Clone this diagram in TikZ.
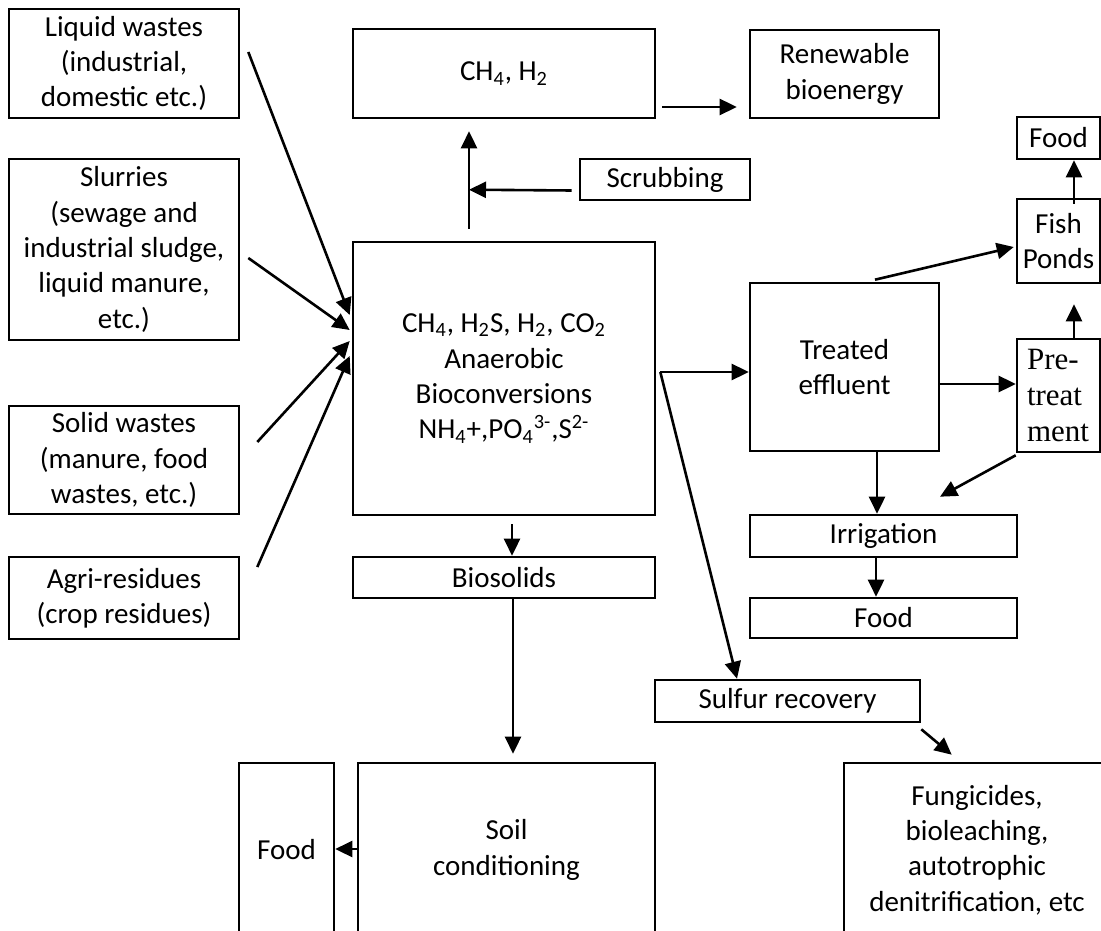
\documentclass[tikz,border=0pt]{standalone}
\usepackage{fontspec}
\setmainfont{Carlito}
\newfontfamily\timesfont{Liberation Serif}
\usetikzlibrary{arrows.meta,calc}
\newdimen\pxu
\pxu=0.5pt
\begin{document}
\begin{tikzpicture}[x=0.5pt,y=-0.5pt,
  box/.style={draw, line width=1.3pt, align=center, inner sep=2pt,
    font=\fontsize{14.5}{17.7}\selectfont},
  arr/.style={line width=1.3pt, -{Triangle[length=8.5pt,width=8pt]}}]
\useasboundingbox (0,0) rectangle (1101,930);
\clip (0,0) rectangle (1101,930);

\node[box, minimum width=230\pxu, minimum height=109\pxu] (liquid) at (124,63.5)
{Liquid wastes\\(industrial,\\domestic etc.)};
\node[box, minimum width=230\pxu, minimum height=181\pxu] (slurry) at (124,249.5)
{Slurries\\(sewage and\\industrial sludge,\\liquid manure,\\etc.)};
\node[box, minimum width=230\pxu, minimum height=108\pxu] (solid) at (124,460)
{Solid wastes\\(manure, food\\wastes, etc.)};
\node[box, minimum width=230\pxu, minimum height=82\pxu] (agri) at (124,598)
{Agri-residues\\(crop residues)};

\node[box, minimum width=302\pxu, minimum height=89\pxu] (gas) at (504,73.5)
{CH\textsubscript{4}, H\textsubscript{2}};
\node[box, minimum width=189\pxu, minimum height=88\pxu] (energy) at (844.5,74)
{Renewable\\bioenergy};
\node[box, minimum width=170\pxu, minimum height=41\pxu] (scrub) at (665,179.5)
{Scrubbing};
\node[box, minimum width=302\pxu, minimum height=273\pxu] (main) at (504,378.5)
{CH\textsubscript{4}, H\textsubscript{2}S, H\textsubscript{2}, CO\textsubscript{2}\\Anaerobic\\Bioconversions\\NH\textsubscript{4}+,PO\textsubscript{4}\textsuperscript{3-},S\textsuperscript{2-}};
\node[box, minimum width=302\pxu, minimum height=41\pxu] (biosolids) at (504,577.5)
{Biosolids};
\node[box, minimum width=297\pxu, minimum height=174\pxu] (soil) at (506.5,850)
{Soil\\conditioning};
\node[box, minimum width=95\pxu, minimum height=174\pxu] (foodL) at (286.5,850)
{Food};

\node[box, minimum width=189\pxu, minimum height=168\pxu] (treated) at (844.5,367)
{Treated\\effluent};
\node[box, minimum width=83\pxu, minimum height=42\pxu] (fishfood) at (1058.5,138)
{Food};
\node[box, minimum width=83\pxu, minimum height=84\pxu] (fish) at (1058.5,241)
{Fish\\Ponds};
\node[box, minimum width=83\pxu, minimum height=113\pxu, align=left, inner xsep=5pt,
  text width=31.5pt, font=\timesfont\fontsize{15.5}{18}\selectfont] (pretreat) at (1058.5,395.5)
{Pre-\\treat\\ment};
\node[box, minimum width=267\pxu, minimum height=42\pxu] (irrigation) at (883.5,536)
{Irrigation};
\node[box, minimum width=267\pxu, minimum height=40\pxu] (foodR) at (883.5,618)
{Food};
\node[box, minimum width=265\pxu, minimum height=42\pxu] (sulfur) at (787.5,701)
{Sulfur recovery};
\node[box, minimum width=266\pxu, minimum height=174\pxu] (fungi) at (977,850)
{Fungicides,\\bioleaching,\\autotrophic\\denitrification, etc};

\coordinate (riser) at ($(main.north)+(-35,-51)$);
\coordinate (split) at ($(main.east)+(4,-6.5)$);

\draw[arr] ($(liquid.east)+(8,-11.5)$) -- ($(main.west)+(-2,-63.5)$);
\draw[arr] ($(slurry.east)+(8,8.5)$) -- ($(main.west)+(-2,-48.5)$);
\draw[arr] ($(solid.east)+(17,-18)$) -- ($(main.west)+(-2,-37.5)$);
\draw[arr] ($(agri.east)+(17,-31)$) -- ($(main.west)+(-2,-22.5)$);

\draw[arr] ($(main.north)+(-35,-12)$) -- ($(gas.south)+(-35,12)$);
\draw[arr] ($(scrub.west)+(-7,11)$) -- (riser);
\draw[arr] ($(gas.east)+(6,33.5)$) -- ($(energy.west)+(-12,33)$);

\draw[arr] (split) -- ($(treated.west)+(0,5)$);
\draw[arr] (split) -- ($(sulfur.north)+(-50.5,0)$);
\draw[arr] ($(main.south)+(8,8)$) -- ($(biosolids.north)+(8,0)$);
\draw[arr] ($(biosolids.south)+(9,0)$) -- ($(soil.north)+(6.5,-8)$);
\draw[arr] ($(soil.west)+(2,-1)$) -- ($(foodL.east)+(0,-1)$);

\draw[arr] ($(treated.north)+(30.5,-2)$) -- ($(fish.west)+(-2,6)$);
\draw[arr] ($(treated.east)+(-2,17)$) -- ($(pretreat.west)+(0,-11.5)$);
\draw[arr] ($(fish.north)+(15.5,6)$) -- ($(fishfood.south)+(15.5,0)$);
\draw[arr] ($(pretreat.north)+(15.5,0)$) -- ($(fish.south)+(15.5,20)$);
\draw[arr] ($(treated.south)+(32.5,0)$) -- ($(irrigation.north)+(-6.5,0)$);
\draw[arr] ($(pretreat.south west)+(0,2)$) -- ($(irrigation.north)+(56.5,-17)$);
\draw[arr] ($(irrigation.south)+(-7.5,-2)$) -- ($(foodR.north)+(-7.5,0)$);
\draw[arr] ($(sulfur.south east)+(0,6)$) -- ($(fungi.north west)+(109,-7)$);
\end{tikzpicture}
\end{document}
